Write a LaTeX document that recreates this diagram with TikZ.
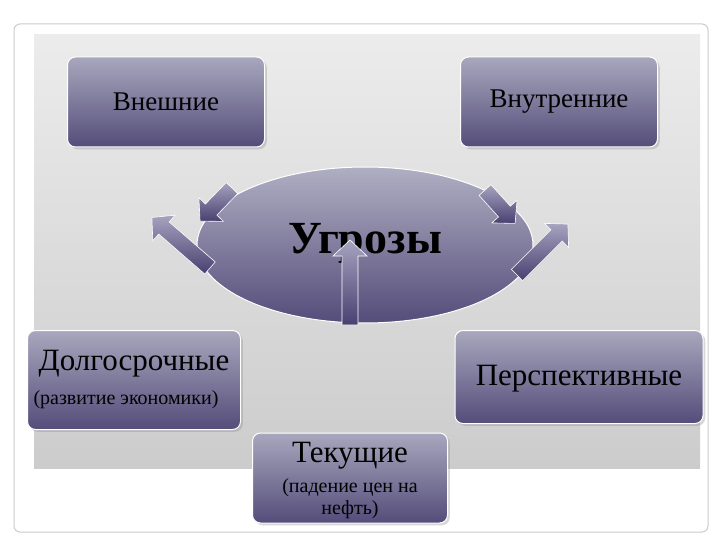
\documentclass[tikz,border=0pt]{standalone}
\usepackage{fontspec}
\setmainfont{Liberation Serif}
\usetikzlibrary{shapes.geometric,shadows}
\newcommand\blockarrow[3]{\begin{scope}[shift={#1},rotate=#2]
\shade[arrowfill] (0,-8)--({#3-16},-8)--({#3-16},-17)--(#3,0)--({#3-16},17)--({#3-16},8)--(0,8)--cycle;
\end{scope}}
\begin{document}
\begin{tikzpicture}[x=1pt,y=-1pt,
  box/.style={rounded corners=8pt,top color=violet!10!blue!15!gray!60,bottom color=violet!30!blue!30!black!70,draw=white,line width=1pt,drop shadow={opacity=0.3}},
  arrowfill/.style={top color=violet!20!blue!20!gray!60,bottom color=violet!30!blue!30!black!75,draw=white,line width=0.6pt},
  lbl/.style={font=\fontsize{27}{30}\selectfont,text=black}]
\useasboundingbox (0,0) rectangle (720,540);
\fill[white] (0,0) rectangle (720,540);
\draw[gray!40,rounded corners=6pt,line width=1pt] (14,24) rectangle (708,532);
\shade[top color=gray!15,bottom color=gray!40] (34,35) rectangle (700,468);
\node[box,minimum width=197pt,minimum height=90pt] (vn) at (166,102) {};
\node[lbl] at (166,102) {Внешние};
\node[box,minimum width=197pt,minimum height=90pt] (vt) at (559,102) {};
\node[lbl] at (559,102) {Внутренние};
\node[ellipse,minimum width=336pt,minimum height=156pt,top color=violet!10!blue!15!gray!55,bottom color=violet!30!blue!30!black!70,draw=white,line width=1pt] (u) at (365,245) {};
\node[font=\fontsize{46}{50}\selectfont\bfseries] at (365,243) {Угрозы};
\node[box,minimum width=213pt,minimum height=99pt] (dl) at (134,380) {};
\node[lbl,font=\fontsize{31}{34}\selectfont] at (134,364) {Долгосрочные};
\node[font=\fontsize{20}{22}\selectfont] at (126,400) {(развитие экономики)};
\node[box,minimum width=248pt,minimum height=93pt] (ps) at (579,377) {};
\node[lbl,font=\fontsize{31}{34}\selectfont] at (579,379) {Перспективные};
\node[box,minimum width=195pt,minimum height=90pt] (tk) at (350,478) {};
\node[lbl,font=\fontsize{31}{34}\selectfont] at (350,456) {Текущие};
\node[font=\fontsize{20}{22}\selectfont,align=center] at (350,499) {(падение цен на\\нефть)};
\blockarrow{(232,188)}{-134}{46}
\blockarrow{(485,190)}{-48}{45}
\blockarrow{(210,268)}{139}{77}
\blockarrow{(517,275)}{45}{72}
\blockarrow{(350,325)}{90}{85}
\end{tikzpicture}
\end{document}
